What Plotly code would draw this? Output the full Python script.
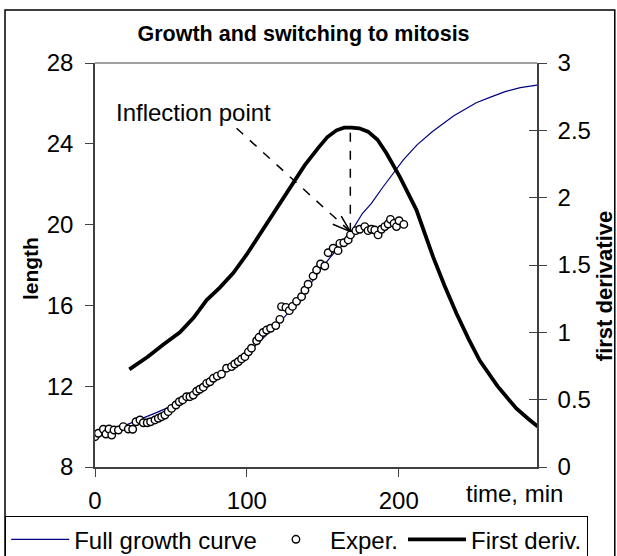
import plotly.graph_objects as go

# Full growth curve (model)
t_full = [0, 10, 20, 30, 40, 50, 60, 70, 80, 90, 100, 110, 120, 130, 140, 148, 158, 168, 176, 182,
          189, 196, 203, 212, 222, 236, 251, 260, 270, 280, 291]
len_full = [9.45, 9.75, 10.05, 10.35, 10.68, 11.0, 11.42, 11.9, 12.45, 13.0, 13.6, 14.3, 15.05, 15.85,
            16.85, 17.75, 18.65, 19.57, 20.55, 21.05, 21.8, 22.5, 23.2, 23.95, 24.6, 25.38, 26.03,
            26.3, 26.58, 26.78, 26.91]

# Experimental lengths
t_exp = [0, 2.2, 5.5, 7.2, 9.2, 11, 12.5, 15.4, 18.6, 21.9, 24.8, 27, 29.6, 31.8, 34.4, 36.6, 39.5,
         41.7, 43.9, 46, 48.2, 50.4, 53.3, 55.5, 57.7, 60.3, 62.5, 64.7, 66.9, 69, 71.3, 73.5, 75.7,
         77.9, 80.5, 83.3, 86.6, 89.9, 92, 94.3, 96.5, 98.7, 101, 103, 106.4, 108, 110.7, 113, 115.6,
         119, 121.7, 122.8, 125.7, 127.9, 130, 132.7, 136, 138.2, 140.3, 143.6, 145.9, 148.5, 151.3,
         153.5, 156.8, 160, 161.2, 163.8, 166.7, 168.2, 171.7, 174.3, 177.6, 179.8, 182, 184.2, 186.4,
         188.6, 190.8, 193, 194.5, 196.9, 198.5, 200.2, 203.3]
len_exp = [9.50, 9.67, 9.87, 9.63, 9.88, 9.58, 9.83, 9.83, 10.0, 9.88, 9.87, 10.24, 10.33, 10.19,
           10.19, 10.24, 10.33, 10.41, 10.49, 10.57, 10.74, 10.90, 11.07, 11.23, 11.32, 11.48, 11.48,
           11.56, 11.75, 11.85, 11.95, 12.14, 12.22, 12.39, 12.50, 12.60, 12.89, 12.97, 13.10, 13.21,
           13.35, 13.46, 13.70, 13.88, 14.25, 14.42, 14.66, 14.78, 14.87, 15.00, 15.31, 15.94, 15.90,
           15.74, 15.95, 16.20, 16.43, 16.75, 17.05, 17.45, 17.75, 18.05, 17.95, 18.61, 18.83, 18.71,
           19.07, 19.10, 19.24, 19.49, 19.70, 19.77, 19.90, 19.70, 19.77, 19.73, 19.49, 19.77, 19.90,
           20.03, 20.26, 20.06, 19.90, 20.19, 20.01]

# First derivative
t_der = [22.6, 35, 45, 55.9, 65, 73.5, 82, 91, 100, 108.6, 118, 128.3, 138, 147, 153, 159, 164,
         168.9, 174, 179.8, 186, 191.9, 200.7, 211.6, 222.6, 230, 238, 246, 253.3, 265, 277.4, 285, 291.5]
der = [0.725, 0.82, 0.91, 1.0, 1.11, 1.24, 1.33, 1.44, 1.58, 1.73, 1.90, 2.08, 2.24, 2.37, 2.45, 2.50,
       2.52, 2.52, 2.515, 2.49, 2.43, 2.33, 2.155, 1.91, 1.56, 1.35, 1.14, 0.95, 0.79, 0.60, 0.435, 0.36, 0.30]

x_ticks = [0, 100, 200]
y_ticks = [8, 12, 16, 20, 24, 28]
y2_ticks = [0, 0.5, 1, 1.5, 2, 2.5, 3]
y2_labels = ["0", "0.5", "1", "1.5", "2", "2.5", "3"]

# Inflection point annotation anchors
infl_t, infl_len = 168.1, 19.65
peak_len = 24.8
arrow_start_t, arrow_start_len = 93.2, 24.77

FONT = "Arial, Liberation Sans, sans-serif"
AX = "#404040"

fig = go.Figure()
fig.add_trace(go.Scatter(x=t_full, y=len_full, mode="lines", name="Full growth curve",
                         line=dict(color="#000080", width=1.2)))
fig.add_trace(go.Scatter(x=t_exp, y=len_exp, mode="markers", name="Exper.",
                         marker=dict(symbol="circle", size=7.5, color="white",
                                     line=dict(color="black", width=1.4))))
fig.add_trace(go.Scatter(x=t_der, y=der, mode="lines", name="First deriv.", yaxis="y2",
                         line=dict(color="black", width=3.8)))

axis_common = dict(ticklen=8, tickwidth=1, tickcolor=AX, showline=True, linecolor=AX,
                   linewidth=1.5, showgrid=False, zeroline=False, automargin=False,
                   tickfont=dict(size=24, family=FONT))

# plot area: x 95..537 px inside a paper region 95..611 px (room for the wide legend)
PAPER_W = 611 - 95
X_DOMAIN_END = 442 / PAPER_W

fig.update_layout(
    width=617, height=556,
    margin=dict(l=95, r=6, t=63, b=89, autoexpand=False),
    paper_bgcolor="white", plot_bgcolor="white",
    font=dict(family=FONT, size=24, color="black"),
    title=dict(text="<b>Growth and switching to mitosis</b>", xref="container", x=0.492,
               xanchor="center", yref="container", y=1 - 33 / 556, yanchor="middle",
               font=dict(size=21.5, family=FONT, color="black")),
    xaxis=dict(domain=[0, X_DOMAIN_END], range=[0, 291], tickvals=x_ticks, ticks="outside",
               ticklabelstandoff=3, **axis_common),
    yaxis=dict(range=[8, 28], tickvals=y_ticks, ticks="outside", ticklabelstandoff=7,
               **axis_common),
    yaxis2=dict(range=[0, 3], tickvals=y2_ticks, ticktext=y2_labels, overlaying="y", side="right",
                anchor="x", ticks="outside", ticklabelstandoff=6, **axis_common),
    yaxis3=dict(range=[0, 3], tickvals=y2_ticks, overlaying="y", side="right", anchor="x",
                ticks="inside", ticklen=8, tickwidth=1, tickcolor=AX, automargin=False,
                showticklabels=False, showline=False, showgrid=False, zeroline=False),
    legend=dict(orientation="h", xref="paper", yref="paper", x=(5 - 95) / PAPER_W,
                xanchor="left", y=(467 - 516) / 404, yanchor="top", bordercolor="black",
                borderwidth=1.2, bgcolor="white", font=dict(size=24, family=FONT),
                itemwidth=58, tracegroupgap=0),
    showlegend=True,
)
# dummy trace carrying the inside half of the right-axis cross ticks
fig.add_trace(go.Scatter(x=[None], y=[None], yaxis="y3", showlegend=False, hoverinfo="skip"))

# top gray border of plot area
fig.add_shape(type="line", xref="x domain", yref="y domain", x0=0, x1=1, y0=1, y1=1,
              line=dict(color="#808080", width=1.5))
# outer chart frame
fig.add_shape(type="rect", xref="x domain", yref="y domain", x0=-0.2036, x1=1.176, y0=-0.24,
              y1=1.131, line=dict(color="black", width=1.5), fillcolor="rgba(0,0,0,0)",
              layer="below")

# dashed arrow line to inflection point
fig.add_shape(type="line", xref="x", yref="y", x0=arrow_start_t, y0=arrow_start_len,
              x1=infl_t, y1=infl_len, line=dict(color="black", width=1.5, dash="dash"))
# vertical dashed line from derivative peak
fig.add_shape(type="line", xref="x", yref="y", x0=infl_t, y0=infl_len, x1=infl_t, y1=peak_len,
              line=dict(color="black", width=1.5, dash="dash"))
# open arrowhead barbs
for ax, ay in [(-19, -8), (-10, -17)]:
    fig.add_annotation(x=infl_t, y=infl_len, xref="x", yref="y", text="", showarrow=True,
                       arrowhead=0, arrowwidth=1.5, arrowcolor="black", ax=ax, ay=ay)

fig.add_annotation(text="Inflection point", xref="x", yref="y", x=12.3, y=25.55, xanchor="left",
                   yanchor="middle", showarrow=False, font=dict(size=24, family=FONT))
fig.add_annotation(text="<b>length</b>", xref="x domain", yref="y domain", x=-0.147, y=0.49,
                   xanchor="center", yanchor="middle",
                   textangle=-90, showarrow=False, font=dict(size=21, family=FONT))
fig.add_annotation(text="<b>first derivative</b>", xref="x domain", yref="y domain", x=1.152,
                   y=0.448, xanchor="center", yanchor="middle",
                   textangle=-90, showarrow=False, font=dict(size=22, family=FONT))
fig.add_annotation(text="time, min", xref="x domain", yref="y domain", x=0.95, y=-0.0644,
                   xanchor="center", yanchor="middle",
                   showarrow=False, font=dict(size=24, family=FONT))

fig.write_html("out.html", config={"displayModeBar": False},
               post_script="document.body.style.margin='0px';")
